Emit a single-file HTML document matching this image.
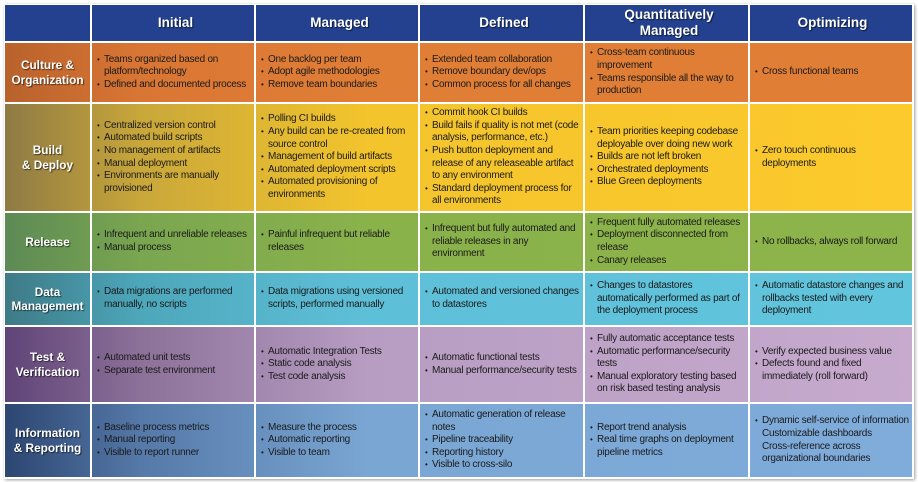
<!DOCTYPE html>
<html><head><style>
body{margin:0;width:918px;height:482px;background:#fff;font-family:"Liberation Sans",Arial,sans-serif;overflow:hidden;position:relative}
.row{position:absolute;left:5px;width:907px}
.c{position:absolute;top:0;bottom:0;display:flex;align-items:center;box-sizing:border-box;padding:0 2px 0 5px;font-size:10px;letter-spacing:-0.25px;line-height:12.6px;color:#1a1a1a}
.c ul{margin:0;padding:0;list-style:none}
.c li{padding-left:7px;text-indent:-7px}
.c li:before{content:"•";display:inline-block;width:7px;text-indent:0;font-size:8px}
.lab{justify-content:center;text-align:center;color:#fff;font-weight:bold;font-size:11.8px;letter-spacing:0;line-height:14.5px;text-shadow:1px 1px 1px rgba(0,0,0,.6);padding:0}
.h{justify-content:center;text-align:center;color:#fff;font-weight:bold;font-size:13.5px;letter-spacing:0;line-height:16px;text-shadow:1px 1px 1px rgba(0,0,0,.6)}
.sep{position:absolute;top:5px;height:472px;width:2px;background:#fff}
</style></head><body>
<div style="position:absolute;left:4px;top:4px;width:910px;height:475px;box-shadow:1px 1px 3px rgba(0,0,0,.4)"></div>
<div class="row" style="top:5px;height:36px;background:#23418f"></div>
<div class="row" style="top:43px;height:59px;background:linear-gradient(90deg,#b8622c 0%,#da7634 15%,#e07e36 40%,#e07e36)"></div>
<div class="row" style="top:104px;height:107px;background:linear-gradient(90deg,#8e7a44 0%,#c9a73a 15%,#f3c42c 40%,#fcca2c)"></div>
<div class="row" style="top:213px;height:58px;background:linear-gradient(90deg,#5d8a55 0%,#7aa650 15%,#8ab24b 40%,#8cb44a)"></div>
<div class="row" style="top:273px;height:52px;background:linear-gradient(90deg,#3e7a86 0%,#4da7bb 15%,#5ec0d8 40%,#62c5de)"></div>
<div class="row" style="top:327px;height:75px;background:linear-gradient(90deg,#5f4478 0%,#8c7199 15%,#b79dc2 40%,#c7aace)"></div>
<div class="row" style="top:404px;height:73px;background:linear-gradient(90deg,#2d4672 0%,#5579a8 15%,#7aa6d4 40%,#80acdb)"></div>
<div class="sep" style="left:90px"></div><div class="sep" style="left:254px"></div><div class="sep" style="left:418px"></div><div class="sep" style="left:583px"></div><div class="sep" style="left:748px"></div>

<div class="row" style="top:5px;height:36px">
<div class="c h" style="left:87px;width:164px">Initial</div>
<div class="c h" style="left:251px;width:164px">Managed</div>
<div class="c h" style="left:415px;width:165px">Defined</div>
<div class="c h" style="left:580px;width:165px">Quantitatively<br>Managed</div>
<div class="c h" style="left:745px;width:162px">Optimizing</div>
</div>

<div class="row" style="top:43px;height:59px">
<div class="c lab" style="left:0;width:85px">Culture &amp;<br>Organization</div>
<div class="c" style="left:87px;width:164px"><ul><li>Teams organized based on platform/technology</li><li>Defined and documented process</li></ul></div>
<div class="c" style="left:251px;width:164px"><ul><li>One backlog per team</li><li>Adopt agile methodologies</li><li>Remove team boundaries</li></ul></div>
<div class="c" style="left:415px;width:165px"><ul><li>Extended team collaboration</li><li>Remove boundary dev/ops</li><li>Common process for all changes</li></ul></div>
<div class="c" style="left:580px;width:165px"><ul><li>Cross-team continuous improvement</li><li>Teams responsible all the way to production</li></ul></div>
<div class="c" style="left:745px;width:162px"><ul><li>Cross functional teams</li></ul></div>
</div>

<div class="row" style="top:104px;height:107px">
<div class="c lab" style="left:0;width:85px">Build<br>&amp; Deploy</div>
<div class="c" style="left:87px;width:164px"><ul><li>Centralized version control</li><li>Automated build scripts</li><li>No management of artifacts</li><li>Manual deployment</li><li>Environments are manually provisioned</li></ul></div>
<div class="c" style="left:251px;width:164px"><ul><li>Polling CI builds</li><li>Any build can be re-created from source control</li><li>Management of build artifacts</li><li>Automated deployment scripts</li><li>Automated provisioning of environments</li></ul></div>
<div class="c" style="left:415px;width:165px"><ul><li>Commit hook CI builds</li><li>Build fails if quality is not met (code analysis, performance, etc.)</li><li>Push button deployment and release of any releaseable artifact to any environment</li><li>Standard deployment process for all environments</li></ul></div>
<div class="c" style="left:580px;width:165px"><ul><li>Team priorities keeping codebase deployable over doing new work</li><li>Builds are not left broken</li><li>Orchestrated deployments</li><li>Blue Green deployments</li></ul></div>
<div class="c" style="left:745px;width:162px"><ul><li>Zero touch continuous deployments</li></ul></div>
</div>

<div class="row" style="top:213px;height:58px">
<div class="c lab" style="left:0;width:85px">Release</div>
<div class="c" style="left:87px;width:164px"><ul><li>Infrequent and unreliable releases</li><li>Manual process</li></ul></div>
<div class="c" style="left:251px;width:164px"><ul><li>Painful infrequent but reliable releases</li></ul></div>
<div class="c" style="left:415px;width:165px"><ul><li>Infrequent but fully automated and reliable releases in any environment</li></ul></div>
<div class="c" style="left:580px;width:165px"><ul><li>Frequent fully automated releases</li><li>Deployment disconnected from release</li><li>Canary releases</li></ul></div>
<div class="c" style="left:745px;width:162px"><ul><li>No rollbacks, always roll forward</li></ul></div>
</div>

<div class="row" style="top:273px;height:52px">
<div class="c lab" style="left:0;width:85px">Data<br>Management</div>
<div class="c" style="left:87px;width:164px"><ul><li>Data migrations are performed manually, no scripts</li></ul></div>
<div class="c" style="left:251px;width:164px"><ul><li>Data migrations using versioned scripts, performed manually</li></ul></div>
<div class="c" style="left:415px;width:165px"><ul><li>Automated and versioned changes to datastores</li></ul></div>
<div class="c" style="left:580px;width:165px"><ul><li>Changes to datastores automatically performed as part of the deployment process</li></ul></div>
<div class="c" style="left:745px;width:162px"><ul><li>Automatic datastore changes and rollbacks tested with every deployment</li></ul></div>
</div>

<div class="row" style="top:327px;height:75px">
<div class="c lab" style="left:0;width:85px">Test &amp;<br>Verification</div>
<div class="c" style="left:87px;width:164px"><ul><li>Automated unit tests</li><li>Separate test environment</li></ul></div>
<div class="c" style="left:251px;width:164px"><ul><li>Automatic Integration Tests</li><li>Static code analysis</li><li>Test code analysis</li></ul></div>
<div class="c" style="left:415px;width:165px"><ul><li>Automatic functional tests</li><li>Manual performance/security tests</li></ul></div>
<div class="c" style="left:580px;width:165px"><ul><li>Fully automatic acceptance tests</li><li>Automatic performance/security tests</li><li>Manual exploratory testing based on risk based testing analysis</li></ul></div>
<div class="c" style="left:745px;width:162px"><ul><li>Verify expected business value</li><li>Defects found and fixed immediately (roll forward)</li></ul></div>
</div>

<div class="row" style="top:404px;height:73px">
<div class="c lab" style="left:0;width:85px">Information<br>&amp; Reporting</div>
<div class="c" style="left:87px;width:164px"><ul><li>Baseline process metrics</li><li>Manual reporting</li><li>Visible to report runner</li></ul></div>
<div class="c" style="left:251px;width:164px"><ul><li>Measure the process</li><li>Automatic reporting</li><li>Visible to team</li></ul></div>
<div class="c" style="left:415px;width:165px"><ul><li>Automatic generation of release notes</li><li>Pipeline traceability</li><li>Reporting history</li><li>Visible to cross-silo</li></ul></div>
<div class="c" style="left:580px;width:165px"><ul><li>Report trend analysis</li><li>Real time graphs on deployment pipeline metrics</li></ul></div>
<div class="c" style="left:745px;width:162px"><ul><li>Dynamic self-service of information<br>Customizable dashboards<br>Cross-reference across organizational boundaries</li></ul></div>
</div>

<div style="position:absolute;left:5px;top:41px;width:907px;height:2px;background:#fff"></div>
</body></html>
